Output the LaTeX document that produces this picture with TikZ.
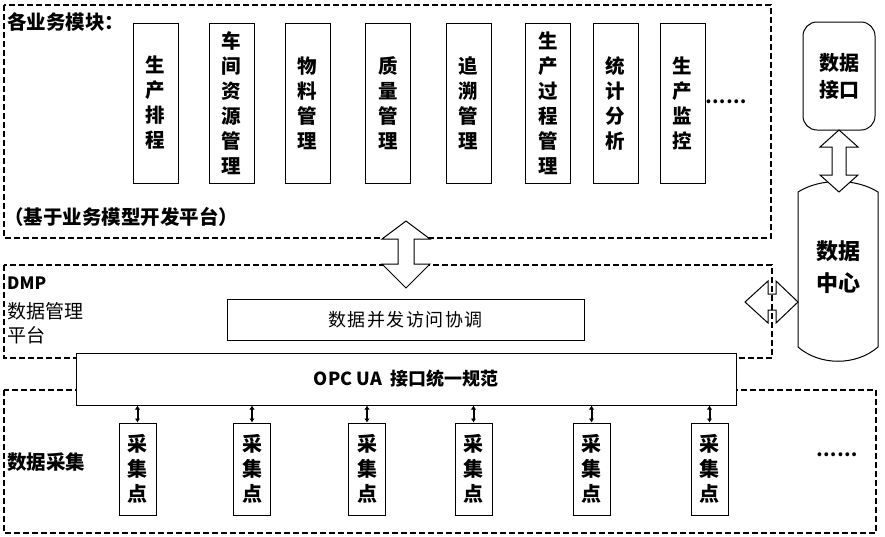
\documentclass[tikz,border=0pt]{standalone}
\usepackage{fontspec}
\setmainfont{Noto Sans CJK SC}
\usetikzlibrary{arrows.meta}
\begin{document}
\begin{tikzpicture}[x=1pt,y=-1pt,
  dashbox/.style={dash pattern=on 6pt off 3pt, line width=1.6pt},
  vbox/.style={draw, line width=1pt, fill=white, inner sep=0pt, align=center,
    font=\bfseries\fontsize{19.5}{25}\selectfont},
  modbox/.style={vbox, minimum width=45pt, minimum height=160pt},
  cjbox/.style={vbox, minimum width=37pt, minimum height=92pt, font=\bfseries\fontsize{20}{25}\selectfont},
  hbox/.style={draw, line width=1pt, fill=white, inner sep=0pt},
  fatarrow/.style={draw, fill=white, line width=1pt, line join=miter},
  lbl/.style={inner sep=0pt, anchor=west, align=left},
  small/.style={{Latex[length=4pt,width=5.5pt]}-{Latex[length=4pt,width=5.5pt]}, line width=2pt}
]
\useasboundingbox (0,0) rectangle (885,536);

% dashed frames
\draw[dashbox] (4,5) rectangle (771,238);
\draw[dashbox] (4,265) rectangle (772,358);
\draw[dashbox] (4,390) rectangle (876,533);

% top frame contents
\node[lbl, font=\bfseries\fontsize{19.5}{22}\selectfont] (title) at (7,22) {各业务模块：};
\node[lbl, font=\bfseries\fontsize{19.5}{22}\selectfont] (base) at (4,217) {（基于业务模型开发平台）};

\node[modbox] (m1) at (155.5,103) {生\\产\\排\\程};
\node[modbox] (m2) at (231.5,103) {车\\间\\资\\源\\管\\理};
\node[modbox] (m3) at (307.5,103) {物\\料\\管\\理};
\node[modbox] (m4) at (388,103) {质\\量\\管\\理};
\node[modbox] (m5) at (468.5,103) {追\\溯\\管\\理};
\node[modbox] (m6) at (548,103) {生\\产\\过\\程\\管\\理};
\node[modbox] (m7) at (615.5,103) {统\\计\\分\\析};
\node[modbox] (m8) at (682.5,103) {生\\产\\监\\控};
\node[inner sep=0pt, font=\bfseries\fontsize{18}{22}\selectfont] (dots1) at (726,102) {……};

% DMP frame contents
\node[lbl, font=\bfseries\fontsize{17}{20}\selectfont] (dmp) at (7,283) {DMP};
\node[lbl, font=\fontsize{19}{24}\selectfont, anchor=north west] (dmpt) at (7,302) {数据管理\\平台};
\node[hbox, minimum width=357pt, minimum height=41pt,
  font=\fontsize{18}{22}\selectfont\addfontfeature{LetterSpace=8}] (conc) at (405.5,319.5) {数据并发访问协调};

% OPC UA bar
\node[hbox, minimum width=660pt, minimum height=52pt,
  font=\bfseries\fontsize{18}{22}\selectfont] (opc) at (406,379) {OPC UA\ \ 接口统一规范};

% data acquisition
\node[lbl, font=\bfseries\fontsize{19.5}{22}\selectfont] (acq) at (7,462) {数据采集};
\foreach \i/\cx in {1/137.5, 2/252, 3/367, 4/473.5, 5/591.5, 6/709.5}{
  \node[cjbox] (c\i) at (\cx,469) {采\\集\\点};
  \draw[small] (c\i.north |- opc.south) -- (c\i.north);
}
\node[inner sep=0pt, font=\bfseries\fontsize{18}{22}\selectfont] (dots2) at (837,455) {……};

% data interface and data center
\node[draw, line width=1pt, rounded corners=14pt, minimum width=72pt, minimum height=108pt,
  align=center, font=\bfseries\fontsize{20}{27}\selectfont] (di) at (839,76) {数据\\接口};
\draw[line width=1pt, fill=white] (798,192) .. controls (820,178) and (856,178) .. (878,192)
  -- (878,347) .. controls (856,366) and (820,366) .. (798,347) -- cycle;
\node[align=center, inner sep=0pt, font=\bfseries\fontsize{22}{32}\selectfont] (dc) at (838,267) {数据\\中心};

% fat double arrows
\draw[fatarrow] (839,130) -- (858,147) -- (846,147) -- (846,175) -- (858,175) -- (839,192)
  -- (820,175) -- (832,175) -- (832,147) -- (820,147) -- cycle;
\draw[fatarrow] (406,221) -- (430,239) -- (414,239) -- (414,264) -- (430,264) -- (406,288)
  -- (382,264) -- (398,264) -- (398,239) -- (382,239) -- cycle;
\draw[line width=1pt, line join=miter] (745,302) -- (768,281) -- (768,294) -- (776,294) -- (776,281) -- (798,302)
  -- (776,323) -- (776,310) -- (768,310) -- (768,323) -- cycle;
\end{tikzpicture}
\end{document}
